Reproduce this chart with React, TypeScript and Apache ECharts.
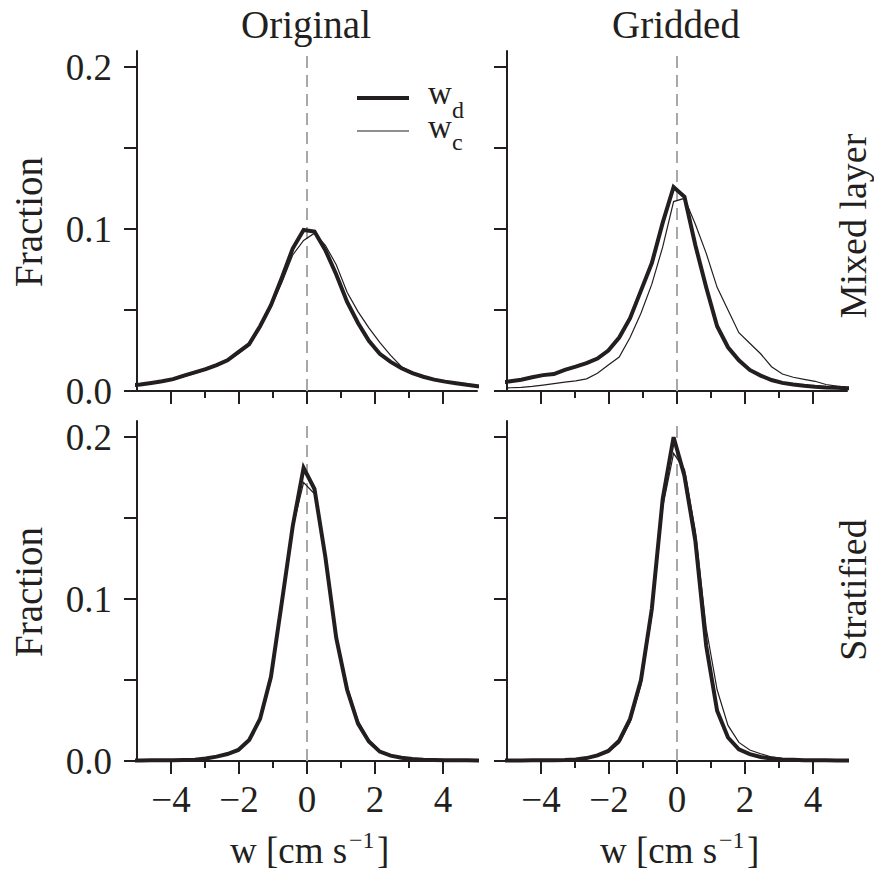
import React, { useEffect, useRef } from 'react';
import * as echarts from 'echarts';

// bin centres of the histograms [cm/s]
const wBins = [-5.22, -4.9, -4.58, -4.26, -3.94, -3.62, -3.3, -2.98, -2.66, -2.34, -2.02, -1.7, -1.38, -1.06, -0.74, -0.42, -0.1, 0.22, 0.54, 0.86, 1.18, 1.5, 1.82, 2.14, 2.46, 2.78, 3.1, 3.42, 3.74, 4.06, 4.38, 4.7, 5.02, 5.34];

// Original, mixed layer
const origMixedWd = [0.0033, 0.004, 0.005, 0.006, 0.0073, 0.0095, 0.0115, 0.0135, 0.016, 0.019, 0.024, 0.029, 0.04, 0.053, 0.07, 0.088, 0.0995, 0.0985, 0.087, 0.072, 0.055, 0.042, 0.031, 0.023, 0.018, 0.014, 0.011, 0.0088, 0.007, 0.0058, 0.0048, 0.0038, 0.003, 0.0025];
const origMixedWc = [0.003, 0.0037, 0.0045, 0.0055, 0.0068, 0.0088, 0.0108, 0.013, 0.0155, 0.0185, 0.023, 0.028, 0.039, 0.052, 0.067, 0.084, 0.093, 0.0975, 0.09, 0.078, 0.061, 0.049, 0.039, 0.03, 0.022, 0.015, 0.0115, 0.009, 0.0072, 0.006, 0.0048, 0.0038, 0.003, 0.0025];
// Gridded, mixed layer
const gridMixedWd = [0.005, 0.006, 0.007, 0.0085, 0.0098, 0.0105, 0.013, 0.015, 0.0172, 0.02, 0.025, 0.033, 0.045, 0.062, 0.079, 0.104, 0.126, 0.12, 0.09, 0.064, 0.04, 0.027, 0.019, 0.013, 0.0095, 0.0068, 0.005, 0.004, 0.0032, 0.0026, 0.0022, 0.002, 0.0017, 0.0015];
const gridMixedWc = [0.0017, 0.002, 0.0023, 0.0028, 0.0036, 0.0045, 0.0055, 0.0063, 0.0075, 0.011, 0.016, 0.021, 0.033, 0.048, 0.066, 0.089, 0.117, 0.119, 0.103, 0.085, 0.064, 0.05, 0.036, 0.0295, 0.023, 0.015, 0.0105, 0.0085, 0.0072, 0.006, 0.004, 0.003, 0.0023, 0.002];
// Original, stratified
const origStratWd = [0.0003, 0.0003, 0.0004, 0.0004, 0.0005, 0.0006, 0.0008, 0.0015, 0.0027, 0.0043, 0.0068, 0.013, 0.026, 0.052, 0.098, 0.145, 0.181, 0.168, 0.126, 0.076, 0.044, 0.023, 0.012, 0.0058, 0.0033, 0.002, 0.0012, 0.0008, 0.0006, 0.0005, 0.0004, 0.0004, 0.0003, 0.0003];
const origStratWc = [0.0003, 0.0003, 0.0004, 0.0004, 0.0005, 0.0006, 0.0008, 0.0014, 0.0025, 0.004, 0.0065, 0.0125, 0.025, 0.05, 0.096, 0.144, 0.172, 0.165, 0.127, 0.078, 0.046, 0.025, 0.013, 0.0065, 0.0037, 0.0022, 0.0013, 0.0009, 0.0006, 0.0005, 0.0004, 0.0004, 0.0003, 0.0003];
// Gridded, stratified
const gridStratWd = [0.0003, 0.0003, 0.0003, 0.0004, 0.0004, 0.0005, 0.0006, 0.0009, 0.0018, 0.0035, 0.0062, 0.0125, 0.026, 0.05, 0.094, 0.162, 0.2, 0.176, 0.136, 0.071, 0.031, 0.0145, 0.0072, 0.0042, 0.0025, 0.0015, 0.001, 0.0007, 0.0005, 0.0004, 0.0004, 0.0003, 0.0003, 0.0003];
const gridStratWc = [0.0002, 0.0002, 0.0003, 0.0003, 0.0004, 0.0004, 0.0005, 0.0008, 0.0015, 0.003, 0.0055, 0.011, 0.024, 0.047, 0.09, 0.157, 0.19, 0.18, 0.142, 0.082, 0.044, 0.022, 0.0115, 0.0068, 0.0045, 0.0025, 0.0015, 0.001, 0.0007, 0.0005, 0.0004, 0.0003, 0.0003, 0.0003];

const xMajorTicks = [-4, -2, 0, 2, 4];
const xMinorTicks = [-3, -1, 1, 3];
const yTickValues = [0, 0.05, 0.1, 0.15, 0.2];
const yLabelValues = [0, 0.1, 0.2];
const columnTitles = ['Original', 'Gridded'];
const rowTitles = ['Mixed layer', 'Stratified'];
const yTitle = 'Fraction';
const xTitleMain = 'w [cm s';
const xTitleExp = '\u22121';
const xTitleEnd = ']';

const INK = '#231f20';
const FONT = 'Liberation Serif';

export default function App() {
  const ref = useRef<HTMLDivElement>(null);

  useEffect(() => {
    const chart = echarts.init(ref.current!, null, { renderer: 'svg' });
    const panels = [
      { col: 0, row: 0, wd: origMixedWd, wc: origMixedWc },
      { col: 1, row: 0, wd: gridMixedWd, wc: gridMixedWc },
      { col: 0, row: 1, wd: origStratWd, wc: origStratWc },
      { col: 1, row: 1, wd: gridStratWd, wc: gridStratWc },
    ];
    const colLeft = [137, 507];
    const rowTop = [51, 421];
    const W = 340;
    const H = 340;

    const grids: any[] = [];
    const xAxes: any[] = [];
    const yAxes: any[] = [];
    const series: any[] = [];

    panels.forEach((p, i) => {
      grids.push({ left: colLeft[p.col], top: rowTop[p.row], width: W, height: H, containLabel: false, outerBoundsMode: 'none' });
      xAxes.push({
        type: 'value', gridIndex: i, min: -5, max: 5, position: 'bottom',
        axisLine: { show: true, onZero: false, lineStyle: { color: INK, width: 2 } },
        axisTick: { show: true, customValues: xMajorTicks, length: 13, lineStyle: { color: INK, width: 2 } },
        axisLabel: {
          show: p.row === 1, customValues: xMajorTicks, color: INK, fontFamily: FONT, fontSize: 37, margin: 20,
          formatter: (v: number) => (v < 0 ? '\u2212' + Math.abs(v) : String(v)),
        },
        splitLine: { show: false },
      });
      xAxes.push({
        type: 'value', gridIndex: i, min: -5, max: 5, position: 'bottom',
        axisLine: { show: false, onZero: false },
        axisTick: { show: true, customValues: xMinorTicks, length: 7, lineStyle: { color: INK, width: 2 } },
        axisLabel: { show: false },
        splitLine: { show: false },
      });
      yAxes.push({
        type: 'value', gridIndex: i, min: 0, max: 0.21, position: 'left',
        axisLine: { show: true, onZero: false, lineStyle: { color: INK, width: 2 } },
        axisTick: { show: true, customValues: yTickValues, length: 13, lineStyle: { color: INK, width: 2 } },
        axisLabel: {
          show: p.col === 0, customValues: yLabelValues, color: INK, fontFamily: FONT, fontSize: 37, margin: 25,
          formatter: (v: number) => v.toFixed(1),
        },
        splitLine: { show: false },
      });
      series.push({
        type: 'line', name: 'w_d', xAxisIndex: i * 2, yAxisIndex: i, showSymbol: false, symbol: 'none', clip: true,
        lineStyle: { color: INK, width: 4, join: 'miter' }, z: 3,
        data: wBins.map((w, k) => [w, p.wd[k]]),
        markLine: {
          silent: true, symbol: ['none', 'none'], label: { show: false }, z: 1,
          lineStyle: { color: '#a8a8a8', width: 2, type: [12, 7] },
          data: [{ xAxis: 0 }],
        },
      });
      series.push({
        type: 'line', name: 'w_c', xAxisIndex: i * 2, yAxisIndex: i, showSymbol: false, symbol: 'none', clip: true,
        lineStyle: { color: INK, width: 1.2, join: 'miter' }, z: 4,
        data: wBins.map((w, k) => [w, p.wc[k]]),
      });
    });

    const txt = (x: number, y: number, text: string, size: number, rotation = 0, align = 'center') => ({
      type: 'text', x, y, rotation,
      style: {
        text, fill: INK, font: `${size}px ${FONT}`, fontFamily: FONT, fontSize: size,
        align, verticalAlign: 'middle', textAlign: align, textVerticalAlign: 'middle',
      },
    });

    const graphic: any[] = [
      txt(306, 24, columnTitles[0], 39),
      txt(676, 24, columnTitles[1], 39),
      txt(28, 222, yTitle, 39, Math.PI / 2),
      txt(28, 592, yTitle, 39, Math.PI / 2),
      txt(853, 226, rowTitles[0], 38, Math.PI / 2),
      txt(853, 590, rowTitles[1], 38, Math.PI / 2),
      // x axis titles: main part, superscript, closing bracket
      txt(230, 850, xTitleMain, 37, 0, 'left'),
      txt(349, 840, xTitleExp, 24, 0, 'left'),
      txt(377, 850, xTitleEnd, 37, 0, 'left'),
      txt(600, 850, xTitleMain, 37, 0, 'left'),
      txt(719, 840, xTitleExp, 24, 0, 'left'),
      txt(747, 850, xTitleEnd, 37, 0, 'left'),
      // legend
      { type: 'line', shape: { x1: 357, y1: 98, x2: 409, y2: 98 }, style: { stroke: INK, lineWidth: 4 } },
      { type: 'line', shape: { x1: 357, y1: 131, x2: 409, y2: 131 }, style: { stroke: INK, lineWidth: 1.2 } },
      txt(428, 93, 'w', 33, 0, 'left'),
      txt(452, 110, 'd', 24, 0, 'left'),
      txt(428, 127, 'w', 33, 0, 'left'),
      txt(452, 142, 'c', 24, 0, 'left'),
    ];

    chart.setOption({
      animation: false,
      backgroundColor: '#ffffff',
      grid: grids,
      xAxis: xAxes,
      yAxis: yAxes,
      series,
      graphic,
    });
    return () => chart.dispose();
  }, []);

  return <div ref={ref} style={{ position: 'fixed', left: 0, top: 0, width: 874, height: 871 }} />;
}
